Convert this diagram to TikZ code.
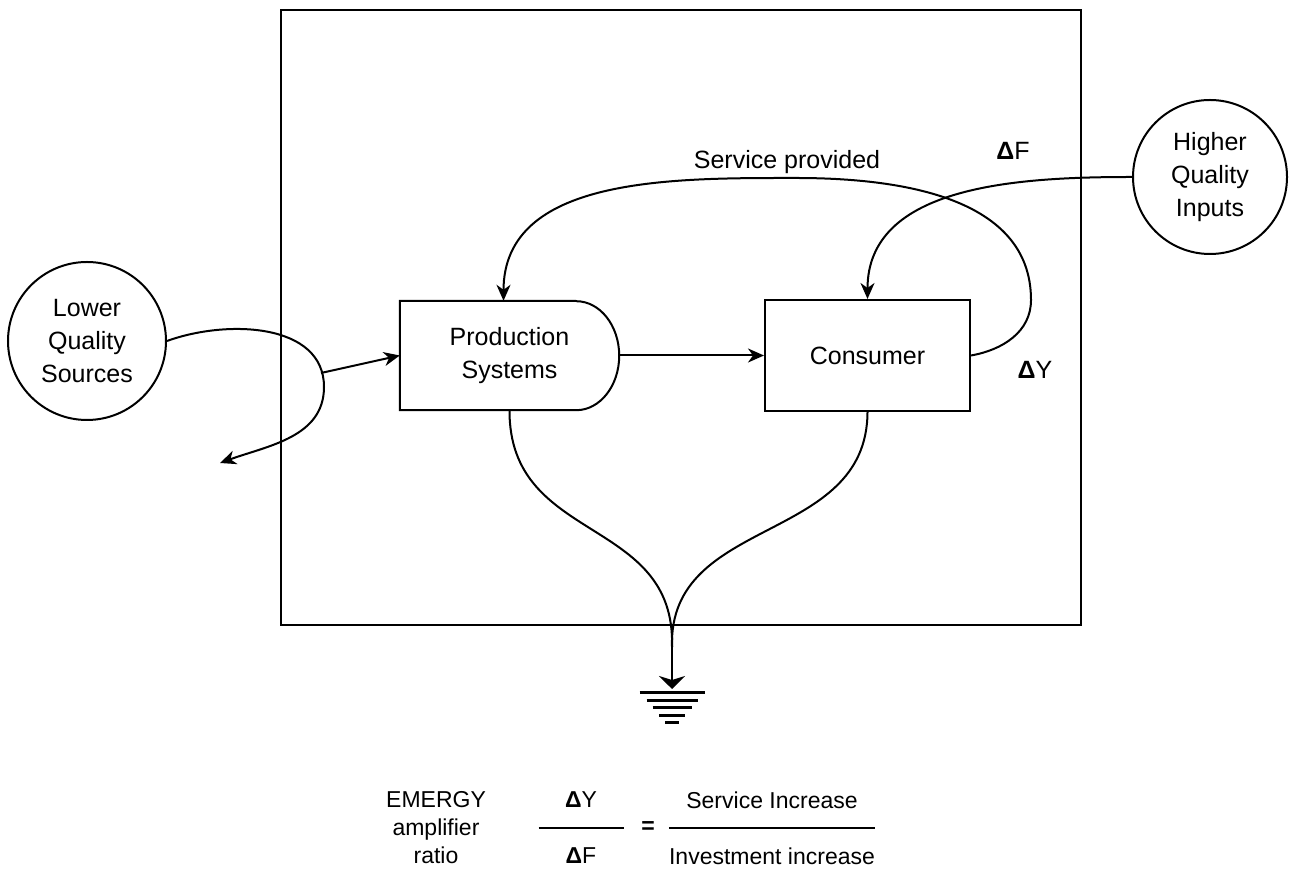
\documentclass[tikz,border=0pt]{standalone}
\usepackage{fontspec}
\setmainfont{Liberation Sans}
\usetikzlibrary{arrows.meta, positioning, calc}

\begin{document}
\begin{tikzpicture}[
  x=1pt, y=1pt,
  every node/.style={font=\fontsize{25}{33}\selectfont, align=center, inner sep=0pt},
  src/.style={circle, draw, line width=2pt},
  proc/.style={rectangle, minimum height=109pt},
  cbox/.style={rectangle, draw, line width=2pt, minimum width=205pt, minimum height=111pt},
  arr/.style={-{Stealth[length=16pt, width=14pt, inset=5pt]}, line width=2pt},
  flow/.style={line width=2pt},
  gbar/.style={line width=3pt},
  eqtext/.style={font=\fontsize{23}{28}\selectfont}
]
  \useasboundingbox (0,0) rectangle (1289,875);

  %% --- System boundary ---
  \draw[line width=2.4pt] (281,250) rectangle (1081,865);

  %% --- Sources ---
  \node[src, minimum size=158pt] (lqs) at (87,534) {Lower\\Quality\\Sources};
  \node[src, minimum size=154pt] (hqi) at (1210,698) {Higher\\Quality\\Inputs};

  %% --- Production (rounded end) and consumer ---
  \node[proc, minimum width=219pt] (prod) at (509.5,519.5) {Production\\Systems};
  \draw[flow] ([xshift=-43pt]prod.north east) -- (prod.north west) -- (prod.south west)
    -- ([xshift=-43pt]prod.south east)
    arc[start angle=-90, end angle=90, x radius=43pt, y radius=54.5pt];
  \node[cbox] (cons) at (867.5,519.5) {Consumer};

  %% --- Free ends and bends ---
  \coordinate (split)   at (321,502);
  \coordinate (bend)    at (324,488);
  \coordinate (leak)    at (220,412);
  \coordinate (loopr)   at (1031,575);
  \coordinate (looptop) at (796,697);
  \coordinate (sink)    at (672,228);
  \coordinate (gnd)     at (672,186);

  %% --- Labels ---
  \node (svc) at (787,713)  {Service provided};
  \node (df)  at (1013,724) {{\bfseries Δ}F};
  \node (dy)  at (1035,505) {{\bfseries Δ}Y};

  %% --- Flows ---
  %% source in, part lost back out
  \draw[arr] (lqs.east) to[out=20,in=90] (bend) to[out=-90,in=20] (leak);
  \draw[arr] (split) -- (prod.west);

  %% production -> consumer
  \draw[arr] (prod.east) -- (cons.west);

  %% service feedback loop
  \draw[arr] (cons.east) to[out=10,in=-90] (loopr) to[out=90,in=0] (looptop)
    to[out=180,in=90] ([xshift=-6pt]prod.north);

  %% higher quality inputs
  \draw[arr] (hqi.west) to[out=180,in=90] (cons.north);

  %% degraded energy to the heat sink
  \draw[flow] (prod.south) .. controls (509,330) and (676,360) .. (sink);
  \draw[flow] (cons.south) .. controls (867,330) and (668,360) .. (sink);
  \draw[-{Stealth[length=13pt, width=26pt, inset=4pt]}, line width=2pt] (sink) -- (gnd);
  \foreach \w [count=\i] in {65,51,39,26,14}
    \draw[gbar] ($(gnd)+({-\w/2},{3.5-7.5*\i})$) -- ++(\w,0);

  %% --- Amplifier ratio ---
  \node[eqtext] (emr)    at (436,47) {EMERGY\\amplifier\\ratio};
  \node[eqtext] (numy)   at (581,75) {{\bfseries Δ}Y};
  \node[eqtext] (denf)   at (581,19) {{\bfseries Δ}F};
  \node[eqtext] (eq)     at (648,47) {\bfseries =};
  \node[eqtext] (svinc)  at (772,75) {Service Increase};
  \node[eqtext] (invinc) at (772,19) {Investment increase};
  \draw[flow] ([xshift=-27pt]denf.west |- eq) -- ([xshift=27pt]denf.east |- eq);
  \draw[flow] (invinc.west |- eq) -- (invinc.east |- eq);

\end{tikzpicture}
\end{document}
